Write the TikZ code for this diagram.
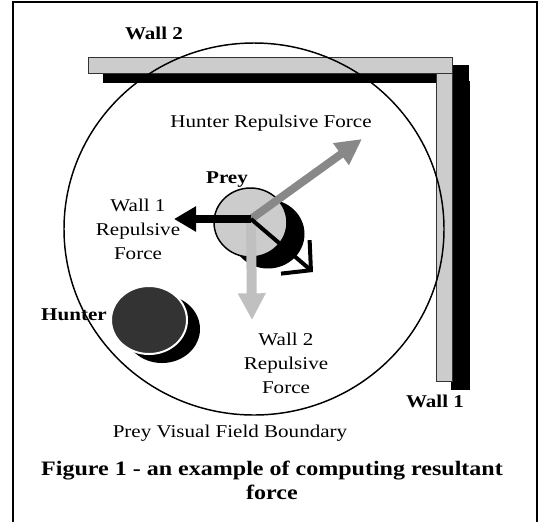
\documentclass[tikz,border=0pt]{standalone}
\usepackage{fontspec}
\setmainfont[FakeStretch=1.17]{Liberation Serif}
\usepackage{tikz}
\usetikzlibrary{arrows.meta}
\definecolor{wallgray}{HTML}{CCCCCC}
\definecolor{preygray}{HTML}{CCCCCC}
\definecolor{huntergray}{HTML}{333333}
\definecolor{hunterforce}{HTML}{888888}
\definecolor{wallforce}{HTML}{C0C0C0}

\begin{document}
\begin{tikzpicture}[x=0.75pt, y=-0.75pt, font=\fontsize{13.5}{18}\selectfont,
  lbl/.style={inner sep=0pt, anchor=base},
  boldlbl/.style={lbl, font=\fontsize{13.5}{18}\selectfont\bfseries},
  multilbl/.style={inner sep=0pt, anchor=north, align=center},
  wallbox/.style={fill=wallgray, draw=black!80, line width=0.6pt},
  shadowbox/.style={fill=black}]
  \useasboundingbox (0,0) rectangle (541,522);
  \draw[line width=1.5pt] (13,522) -- (13,2) -- (537,2) -- (537,522);
  % walls with their shadows
  \fill[shadowbox] (103,65) rectangle (469,83);
  \fill[shadowbox] (451,81) rectangle (470,390);
  \draw[wallbox] (88,57) rectangle (452,73);
  \draw[wallbox] (436,73) rectangle (452,381);
  % visual field
  \draw[line width=1.1pt] (254,229) ellipse [x radius=190, y radius=186];
  % hunter and prey
  \fill[black] (162,329) ellipse [x radius=38, y radius=34];
  \draw[fill=huntergray, draw=white, line width=1.5pt] (149,320) ellipse [x radius=38, y radius=34];
  \fill[black] (268,234) ellipse [x radius=36.5, y radius=34.5];
  \draw[fill=preygray, line width=1.1pt] (250.5,222.5) ellipse [x radius=36.5, y radius=34.5];
  % forces
  \coordinate (o) at (251,219);
  \coordinate (w2tip) at (252,320);
  \coordinate (hftip) at (362,139);
  \coordinate (w1tip) at (174,219);
  \coordinate (rtip) at (313,272);
  \draw[wallforce, line width=7.5pt, -{Triangle[length=20pt, width=19.5pt]}] (o) -- (w2tip);
  \draw[hunterforce, line width=6pt, -{Triangle[length=19.5pt, width=19pt]}] (o) -- (hftip);
  \draw[black, line width=6.5pt, -{Triangle[length=16.5pt, width=18pt]}] (o) -- (w1tip);
  \draw[black, line width=3pt, -{Straight Barb[length=15.4pt, width=33pt]}] (o) -- (rtip);
  % labels
  \node[boldlbl] (wall2lbl) at (154,39) {Wall 2};
  \node[lbl] (hflbl) at (271,127) {Hunter Repulsive Force};
  \node[boldlbl] (preylbl) at (227,183) {Prey};
  \node[multilbl] (w1flbl) at (138,198.7) {Wall 1\\Repulsive\\Force};
  \node[boldlbl] (hunterlbl) at (74,320) {Hunter};
  \node[multilbl] (w2flbl) at (286,332.7) {Wall 2\\Repulsive\\Force};
  \node[boldlbl] (wall1lbl) at (435,407) {Wall 1};
  \node[lbl] (fieldlbl) at (230,437) {Prey Visual Field Boundary};
  \node[multilbl, font=\fontsize{15.4}{18}\selectfont\bfseries] (caption) at (272,461)
    {Figure 1 - an example of computing resultant\\force};
\end{tikzpicture}
\end{document}
